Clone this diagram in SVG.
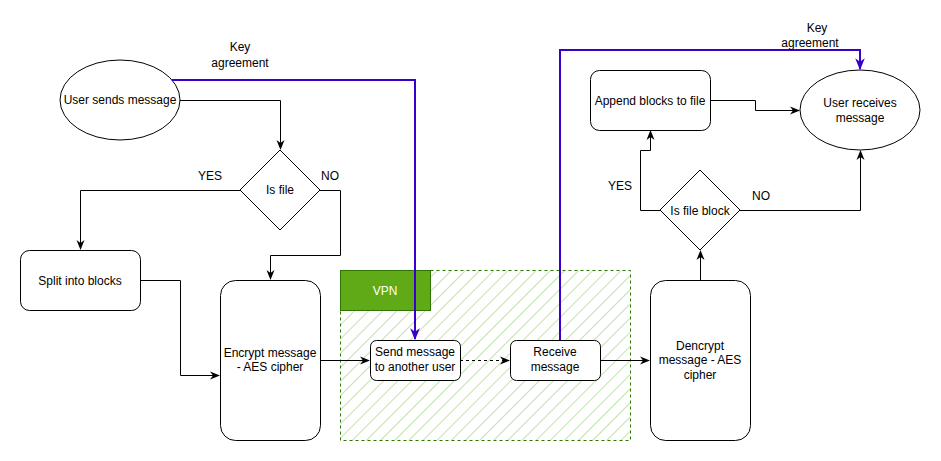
<svg xmlns="http://www.w3.org/2000/svg" width="941" height="461" viewBox="0 0 941 461">
<style>
.n{fill:#fff;stroke:#000;stroke-width:1}
.t{font-family:"Liberation Sans",Arial,sans-serif;font-size:12px;fill:#000;text-anchor:middle}
.c{fill:none;stroke:#000;stroke-width:1}
.k{fill:none;stroke:#3700CC;stroke-width:2}
</style>
<defs>
<marker id="a" viewBox="0 0 10 10" refX="9" refY="5" markerWidth="10" markerHeight="10" markerUnits="userSpaceOnUse" orient="auto"><path d="M0,1 L10,5 L0,9 L3,5 Z" fill="#000"/></marker>
<marker id="b" viewBox="0 0 10 10" refX="9" refY="5" markerWidth="12" markerHeight="12" markerUnits="userSpaceOnUse" orient="auto"><path d="M0,1 L10,5 L0,9 L3,5 Z" fill="#3700CC"/></marker>
<pattern id="h" patternUnits="userSpaceOnUse" width="10" height="10" patternTransform="rotate(45)"><line x1="0" y1="0" x2="0" y2="10" stroke="#97D077" stroke-width="1.2"/></pattern>
</defs>
<rect width="941" height="461" fill="#fff"/>
<g id="vpn">
<rect x="340.5" y="270.5" width="290" height="170" fill="url(#h)" stroke="#2D7600" stroke-dasharray="3 3"/>
<rect x="340.5" y="270.5" width="90" height="40" fill="#60A917" stroke="#2D7600"/>
<text class="t" x="385" y="295" style="fill:#fff">VPN</text>
</g>
<g id="user-sends"><ellipse class="n" cx="120" cy="100" rx="60" ry="40"/><text class="t" x="120" y="104">User sends message</text></g>
<g id="is-file"><path class="n" d="M280,150 L320,190 L280,230 L240,190 Z"/><text class="t" x="280" y="194">Is file</text></g>
<g id="split"><rect class="n" x="20.5" y="250.5" width="120" height="60" rx="9"/><text class="t" x="80" y="285">Split into blocks</text></g>
<g id="encrypt"><rect class="n" x="220.5" y="280.5" width="100" height="160" rx="15"/><text class="t" x="270" y="357">Encrypt message</text><text class="t" x="270" y="371">- AES cipher</text></g>
<g id="send"><rect class="n" x="370.5" y="340.5" width="90" height="40" rx="6"/><text class="t" x="415" y="356">Send message</text><text class="t" x="415" y="371">to another user</text></g>
<g id="receive"><rect class="n" x="510.5" y="340.5" width="90" height="40" rx="6"/><text class="t" x="555" y="356">Receive</text><text class="t" x="555" y="371">message</text></g>
<g id="decrypt"><rect class="n" x="650.5" y="280.5" width="100" height="160" rx="15"/><text class="t" x="700" y="350">Dencrypt</text><text class="t" x="700" y="364">message - AES</text><text class="t" x="700" y="379">cipher</text></g>
<g id="is-file-block"><path class="n" d="M700,170 L740,210 L700,250 L660,210 Z"/><text class="t" x="700" y="215">Is file block</text></g>
<g id="append"><rect class="n" x="590.5" y="70.5" width="120" height="60" rx="9"/><text class="t" x="650" y="105">Append blocks to file</text></g>
<g id="user-receives"><ellipse class="n" cx="860" cy="110" rx="60" ry="40"/><text class="t" x="860" y="107">User receives</text><text class="t" x="860" y="122">message</text></g>
<g id="connectors">
<path class="c" d="M180,100.5 H280.5 V149" marker-end="url(#a)"/>
<path class="c" d="M240,190.5 H80.5 V249" marker-end="url(#a)"/>
<path class="c" d="M320,190.5 H340.5 V255.5 H270.5 V279" marker-end="url(#a)"/>
<path class="c" d="M140,280.5 H180.5 V375.5 H219" marker-end="url(#a)"/>
<path class="c" d="M320,360.5 H369" marker-end="url(#a)"/>
<path class="c" d="M460,360.5 H509" stroke-dasharray="3 3" marker-end="url(#a)"/>
<path class="c" d="M600,360.5 H649" marker-end="url(#a)"/>
<path class="c" d="M700.5,280 V251" marker-end="url(#a)"/>
<path class="c" d="M660,210.5 H640.5 V150.5 H650.5 V131" marker-end="url(#a)"/>
<path class="c" d="M710,100.5 H755.5 V110.5 H799" marker-end="url(#a)"/>
<path class="c" d="M740,210.5 H860.5 V151" marker-end="url(#a)"/>
<path class="k" d="M172,80 H415 V339" marker-end="url(#b)"/>
<path class="k" d="M560,340 V50 H860 V69" marker-end="url(#b)"/>
<text class="t" x="240" y="51">Key</text><text class="t" x="240" y="67">agreement</text>
<text class="t" x="817" y="32">Key</text><text class="t" x="810" y="47">agreement</text>
<text class="t" x="210" y="180">YES</text><text class="t" x="330" y="180">NO</text>
<text class="t" x="620" y="190">YES</text><text class="t" x="761" y="200">NO</text>
</g>
</svg>
